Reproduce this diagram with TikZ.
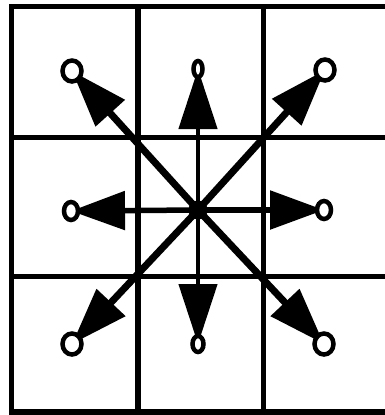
\documentclass[tikz,border=0pt]{standalone}
\usepackage{tikz}
\usetikzlibrary{arrows.meta}
\usetikzlibrary{shapes.geometric}
\usetikzlibrary{backgrounds}
\usetikzlibrary{math}

\begin{document}
\begin{tikzpicture}[x=1pt, y=-1pt,
  site/.style 2 args={ellipse, draw, fill=white, line width=4.5pt, inner sep=0pt, outer sep=0pt,
    minimum width=#1, minimum height=#2},
  hop/.style 2 args={line width=#1, -{Triangle[length=#2, width=38pt]}}]
\tikzmath{
\L=11.5; \A=137.5; \B=263.5; \E=385;
\T=6.5; \P=137; \Q=276.5; \D=412;
}
\useasboundingbox (0,0) rectangle (\E,415);

% neighbour sites
\coordinate (c) at (198,210);
\node[site={19pt}{21pt}] (nw) at (72,71) {};
\node[site={9pt}{16pt}]  (n)  at (198,69) {};
\node[site={19pt}{21pt}] (ne) at (325,70) {};
\node[site={14pt}{18pt}] (w)  at (71,211) {};
\node[site={14pt}{18pt}] (e)  at (324,210) {};
\node[site={19pt}{21pt}] (sw) at (72,344) {};
\node[site={11pt}{16pt}] (s)  at (198,344) {};
\node[site={19pt}{21pt}] (se) at (324,344) {};

\begin{scope}[on background layer]
% lattice cells
\draw[line width=5.5pt] (\E,\T) -- (\L,\T) -- (\L,\D) -- (\E,\D);
\draw[line width=6pt] (\A,\T) -- (\A,\D);
\draw[line width=4.5pt] (\B,\T) -- (\B,\D);
\draw[line width=5pt] (\L,\P) -- (\E,\P);
\draw[line width=5pt] (\L,\Q) -- (\E,\Q);

% velocities
\draw[hop={7pt}{57pt}] (c) -- (nw.center);
\draw[hop={7pt}{57pt}] (c) -- (ne.center);
\draw[hop={7pt}{57pt}] (c) -- (sw.center);
\draw[hop={7pt}{57pt}] (c) -- (se.center);
\draw[hop={5.5pt}{54pt}] (c) -- (w.center);
\draw[hop={5.5pt}{54pt}] (c) -- (e.center);
\draw[hop={4.5pt}{60pt}] (c) -- (n.center);
\draw[hop={4.5pt}{60pt}] (c) -- (s.center);
\end{scope}

\fill (c) circle (9.5);
\end{tikzpicture}
\end{document}
